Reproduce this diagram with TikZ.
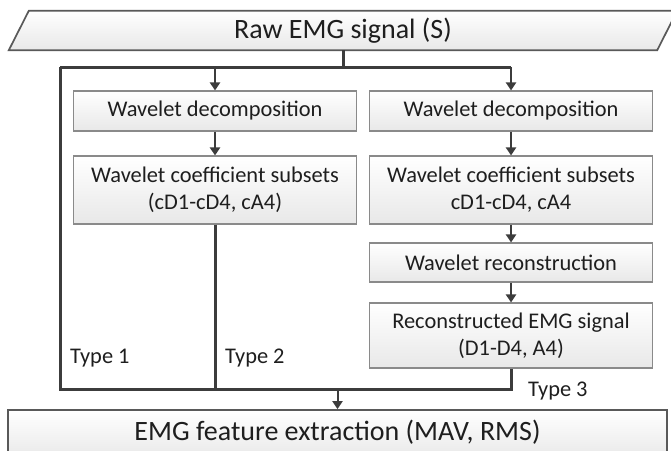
\documentclass[tikz,border=0pt]{standalone}
\usepackage{fontspec}
\setmainfont{Carlito}
\usetikzlibrary{arrows.meta,calc}
\definecolor{lineC}{HTML}{3C3C3C}
\definecolor{boxB}{HTML}{8A8A8A}
\definecolor{txtC}{HTML}{1E1E1E}
\tikzset{
  box/.style={draw=boxB, line width=1.1pt, top color=white, bottom color=black!9,
    minimum width=283pt, inner sep=2pt, align=center, text=txtC,
    font=\fontsize{22.4}{27.3}\selectfont},
  bigbox/.style={draw=lineC!85, line width=1.7pt, top color=white, bottom color=black!8,
    inner sep=2pt, align=center, text=txtC, font=\fontsize{28}{33}\selectfont},
  bus/.style={draw=lineC, line width=3pt, line join=miter},
  arr/.style={draw=lineC, line width=2pt, -{Triangle[width=10pt,length=8pt]}},
  lbl/.style={anchor=west, inner sep=0pt, text=txtC, font=\fontsize{22.4}{27}\selectfont}
}
\begin{document}
\begin{tikzpicture}[x=1pt,y=-1pt]
\useasboundingbox (0,0) rectangle (671,450);
% title parallelogram
\node[minimum width=648pt, minimum height=39pt, inner sep=0pt] (raw) at (343,30.5) {};
\shade[top color=white, bottom color=black!9]
  ([xshift=-10pt]raw.south west) -- ([xshift=10pt]raw.north west) --
  ([xshift=10pt]raw.north east) -- ([xshift=-10pt]raw.south east) -- cycle;
\draw[draw=lineC!85, line width=1.7pt, line join=miter]
  ([xshift=-10pt]raw.south west) -- ([xshift=10pt]raw.north west) --
  ([xshift=10pt]raw.north east) -- ([xshift=-10pt]raw.south east) -- cycle;
\node[text=txtC, font=\fontsize{28}{33}\selectfont, inner sep=0pt] at (raw.center) {Raw EMG signal (S)};

% left column
\node[box, minimum height=40pt] (ld) at (215,111) {Wavelet decomposition};
\node[box, minimum height=68pt] (lc) at (215,190) {Wavelet coefficient subsets\\(cD1-cD4, cA4)};
% right column
\node[box, minimum height=40pt] (rd) at (511,111) {Wavelet decomposition};
\node[box, minimum height=68pt] (rc) at (511,190) {Wavelet coefficient subsets\\cD1-cD4, cA4};
\node[box, minimum height=39pt] (rw) at (511,262.5) {Wavelet reconstruction};
\node[box, minimum height=65pt] (rr) at (511,335.5) {Reconstructed EMG signal\\(D1-D4, A4)};

% bottom box
\node[bigbox, minimum width=659pt, minimum height=44pt] (fe) at (337.5,432) {EMG feature extraction (MAV, RMS)};

% bus coordinates
\coordinate (bt) at (343,67);
\coordinate (btL) at (60,67);
\coordinate (bbL) at (60,389);
\coordinate (bbR) at (rr.south |- bbL);

\draw[bus] (raw.south) -- (bt);
\draw[bus] (btL) -- (rd.north |- btL);
\draw[bus] (btL) -- (bbL) -- (bbR) -- (rr.south);
\draw[bus] (lc.south) -- (lc.south |- bbL);

\draw[arr] (ld.north |- btL) -- (ld.north);
\draw[arr] (rd.north |- btL) -- (rd.north);
\draw[arr] (ld) -- (lc);
\draw[arr] (rd) -- (rc);
\draw[arr] (rc) -- (rw);
\draw[arr] (rw) -- (rr);
\draw[arr] (fe.north |- bbL) -- (fe.north);

\node[lbl] (t1) at (70,358) {Type 1};
\node[lbl] (t2) at (225,358) {Type 2};
\node[lbl] (t3) at (528,391) {Type 3};
\end{tikzpicture}
\end{document}
